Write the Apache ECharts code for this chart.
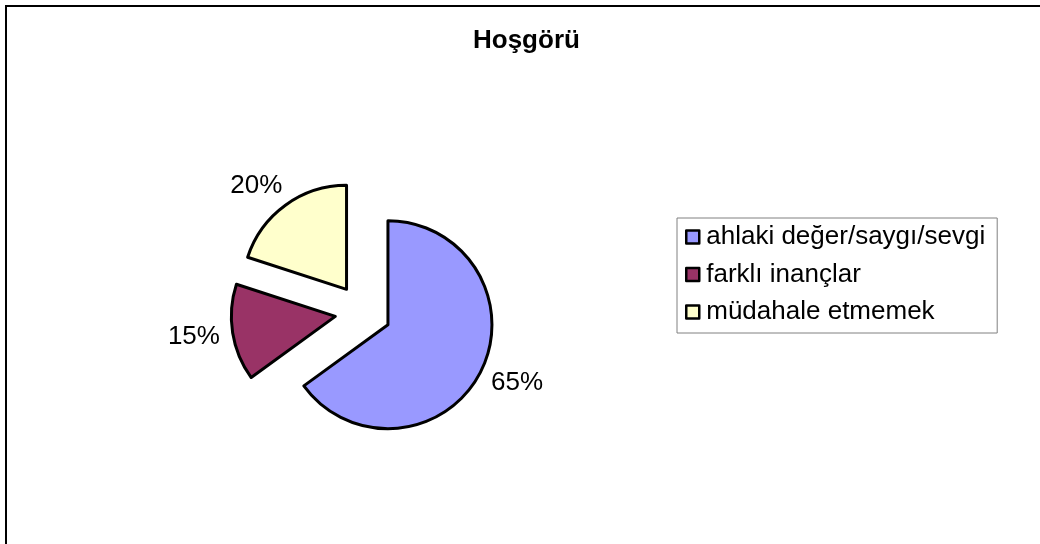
<!DOCTYPE html>
<html>
<head>
<meta charset="utf-8">
<script src="https://cdn.jsdelivr.net/npm/echarts@6/dist/echarts.min.js"></script>
<style>
    html, body {margin: 0; padding: 0; background: #fff;}
    #chart {width: 1040px; height: 544px;}
</style>
</head>
<body>
<div id="chart"></div>
<script>
    // chart data
    var titleText = 'Hoşgörü';
    var categories = ['ahlaki değer/saygı/sevgi', 'farklı inançlar', 'müdahale etmemek'];
    var values = [65, 15, 20];
    var palette = ['#9999FF', '#993366', '#FFFFCC'];

    var font = 'Arial, "Liberation Sans", sans-serif';

    var chart = echarts.init(document.getElementById('chart'), null, {renderer: 'canvas'});

    var pieData = categories.map(function (name, i) {
        return {name: name, value: values[i], selected: true};
    });

    chart.setOption({
        animation: false,
        color: palette,
        title: {
            text: titleText,
            left: 473,
            top: 28,
            padding: 0,
            textStyle: {fontFamily: font, fontSize: 26, fontWeight: 'bold', color: '#000'}
        },
        legend: {
            orient: 'vertical',
            left: 677,
            top: 218,
            padding: [6, 12, 8, 8],
            itemGap: 11.5,
            itemWidth: 13,
            itemHeight: 13,
            icon: 'rect',
            borderColor: '#808080',
            borderWidth: 1,
            selectedMode: false,
            itemStyle: {borderColor: '#000', borderWidth: 2.5},
            textStyle: {fontFamily: font, fontSize: 26, lineHeight: 26, color: '#000', padding: [0, 0, 0, 2]},
            data: categories
        },
        graphic: [{
            type: 'rect',
            silent: true,
            shape: {x: 6, y: 6, width: 1100, height: 600},
            style: {fill: 'none', stroke: '#000', lineWidth: 2}
        }],
        series: [{
            type: 'pie',
            center: [363, 312],
            radius: 104,
            startAngle: 90,
            clockwise: true,
            selectedMode: 'multiple',
            selectedOffset: 28,
            avoidLabelOverlap: false,
            emphasis: {disabled: true},
            itemStyle: {borderColor: '#000', borderWidth: 3},
            select: {itemStyle: {borderColor: '#000', borderWidth: 3}},
            label: {
                show: true,
                position: 'outside',
                formatter: '{d}%',
                distanceToLabelLine: -11,
                fontFamily: font,
                fontSize: 26,
                color: '#000'
            },
            labelLine: {show: false, length: 24, length2: 0},
            data: pieData
        }]
    });
</script>
</body>
</html>
